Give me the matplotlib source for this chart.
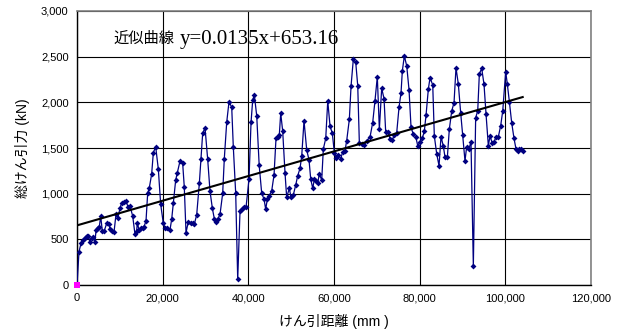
import matplotlib.pyplot as plt
import numpy as np
from matplotlib.ticker import FuncFormatter, MultipleLocator

# けん引距離 (mm) と 総けん引力 (kN)
distance = [
    0, 467, 934, 1470, 1870, 2260, 2640, 3040, 3430, 3810, 4200, 4440, 4830, 5210,
    5530, 5910, 6380, 6930, 7470, 7700, 8100, 8640, 9110, 9500, 10040, 10430, 10970,
    11440, 11980, 12370, 13000, 13540, 13930, 14090, 14480, 14940, 15330, 15640,
    16110, 16500, 16890, 17430, 17820, 18370, 18990, 19530, 20150, 20550, 21090,
    21710, 22110, 22490, 23040, 23420, 24050, 24660, 25050, 25450, 25990, 26540,
    27000, 27390, 27940, 28560, 28950, 29340, 29890, 30510, 31050, 31600, 32060,
    32450, 32840, 33390, 34010, 34390, 34950, 35490, 36120, 36490, 37050, 37520,
    38060, 38450, 38990, 39460, 40160, 40630, 41020, 41400, 41960, 42530, 43120,
    43660, 44050, 44440, 44900, 45460, 46000, 46460, 46860, 47230, 47560, 48020,
    48560, 48950, 49570, 49960, 50500, 51060, 51530, 52070, 52460, 53000, 53630,
    54170, 54560, 55030, 55410, 55800, 56200, 56570, 57130, 57510, 58070, 58540,
    59070, 59610, 60080, 60470, 61010, 61570, 62030, 62570, 62960, 63580, 63980,
    64510, 65070, 65540, 65920, 66460, 67070, 67630, 68400, 69030, 69570, 70110,
    70590, 71130, 71680, 72070, 72690, 73080, 73620, 74080, 74640, 75180, 75650,
    75950, 76420, 76980, 77520, 77980, 78520, 79080, 79550, 80080, 80620, 81090,
    81490, 82020, 82420, 83050, 83420, 83980, 84520, 84980, 85520, 85920, 86460,
    86920, 87480, 88020, 88480, 89030, 89580, 90040, 90580, 90970, 91520, 91980,
    92530, 93070, 93550, 93930, 94480, 95020, 95490, 96030, 96420, 96960, 97350,
    97820, 98370, 98910, 99390, 100080, 100470, 100940, 101480, 102020, 102490,
    102880, 103270, 103660, 104050,
]
force = [
    0, 365, 456, 493, 518, 537, 537, 467, 511, 522, 467, 602, 628, 638,
    755, 591, 595, 675, 668, 610, 591, 577, 777, 730, 840, 901, 909,
    916, 850, 868, 755, 555, 595, 682, 602, 621, 628, 638,
    701, 1004, 1066, 1215, 1449, 1514, 1267, 887, 675, 628, 628,
    602, 723, 901, 1150, 1230, 1358, 1339, 1070, 573, 693, 682,
    682, 668, 767, 1113, 1383, 1661, 1722, 1376, 1029, 840, 726,
    693, 719, 774, 1004, 1383, 1781, 2007, 1946, 1514, 1004, 62,
    814, 832, 857, 850, 1161, 1781, 2026, 2081, 1851, 1314, 1004,
    942, 829, 942, 978, 1033, 1205, 1606, 1624, 1643, 1880, 1686,
    1230, 960, 1059, 960, 985, 1095, 1197, 1278, 1412, 1799, 1478,
    1369, 1161, 1059, 1157, 1139, 1120, 1215, 1150, 1489, 1606, 2015,
    1741, 1661, 1449, 1394, 1424, 1380, 1460, 1471, 1580, 1814, 2179,
    2471, 2439, 2182, 1552, 1541, 1533, 1580, 1617, 1777, 2018, 2281,
    1705, 2154, 2040, 1672, 1679, 1595, 1588, 1643, 1668, 1946, 2106,
    2343, 2508, 2398, 2135, 1727, 1650, 1624, 1525, 1569, 1606, 1686,
    1862, 2143, 2270, 2190, 1632, 1434, 1306, 1624, 1522, 1398, 1398,
    1705, 1905, 1996, 2379, 2197, 1880, 1642, 1358, 1514, 1493, 1569,
    208, 1832, 1905, 2310, 2372, 2197, 1872, 1525, 1631, 1551, 1569,
    1617, 1624, 1744, 1905, 2336, 2197, 2007, 1777, 1606, 1489,
    1467, 1489, 1489, 1467,
]

slope = 0.0135
intercept = 653.16

fig = plt.figure(figsize=(6.27, 3.33), dpi=100)
ax = fig.add_axes([0.1228, 0.144, 0.8198, 0.823])

ax.plot(distance, force, color='#000080', lw=0.9, marker='D', ms=3.0,
        markeredgewidth=0, zorder=3)
ax.plot([0], [0], marker='s', color='#ff00ff', ms=5, markeredgewidth=0,
        zorder=5, clip_on=False)

xfit = np.array([0, max(distance)])
ax.plot(xfit, slope * xfit + intercept, color='black', lw=1.5, zorder=4)

ax.set_xlim(0, 120000)
ax.set_ylim(0, 3000)
ax.xaxis.set_major_locator(MultipleLocator(20000))
ax.yaxis.set_major_locator(MultipleLocator(500))
fmt = FuncFormatter(lambda v, p: f'{int(v):,}')
ax.xaxis.set_major_formatter(fmt)
ax.yaxis.set_major_formatter(fmt)
ax.grid(True, color='black', lw=0.8)
ax.set_axisbelow(True)
ax.tick_params(length=0, labelsize=8, pad=6)
for lab in ax.get_xticklabels() + ax.get_yticklabels():
    lab.set_family('Liberation Sans')
for s in ['top', 'right']:
    ax.spines[s].set_color('#808080')
    ax.spines[s].set_linewidth(1.2)
for s in ['left', 'bottom']:
    ax.spines[s].set_color('black')
    ax.spines[s].set_linewidth(1.0)

jp = ['Liberation Sans', 'Noto Sans CJK JP']
ax.set_xlabel('けん引距離 (mm )', family=jp, fontsize=10, labelpad=8)
ax.set_ylabel('総けん引力 (kN)', family=jp, fontsize=10, labelpad=8)

# 近似曲線のラベル
ax.text(0.070, 0.90, '近似曲線', transform=ax.transAxes,
        family='Noto Sans CJK JP', fontsize=11, ha='left', va='center')
ax.text(0.200, 0.895, 'y=0.0135x+653.16', transform=ax.transAxes,
        family='Liberation Serif', fontsize=15, ha='left', va='center')

fig.savefig('out.png', dpi=100)
